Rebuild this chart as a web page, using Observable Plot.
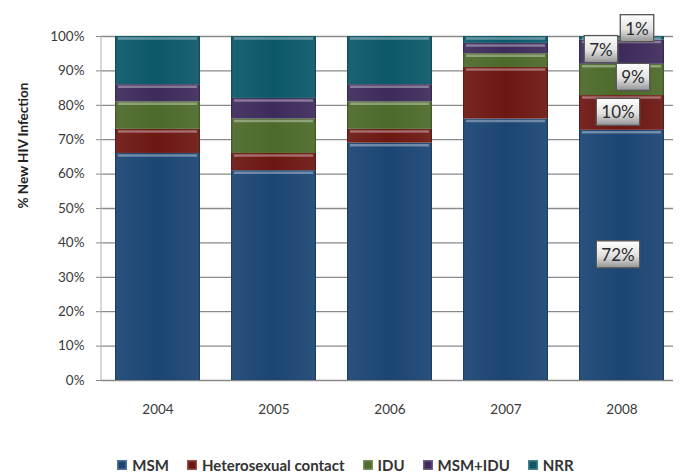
<!DOCTYPE html>
<html>
<head>
<meta charset="utf-8">
<script src="https://cdn.jsdelivr.net/npm/d3@7"></script>
<script src="https://cdn.jsdelivr.net/npm/@observablehq/plot@0.6"></script>
<style>
  html, body { margin: 0; padding: 0; background: #fff; overflow: hidden; }
  #chart { width: 683px; height: 430px; }
  #chart svg { max-width: none !important; display: block; }
  #legend { display: flex; justify-content: center; gap: 18px; margin-top: 25px; margin-left: 8px; height: 20px;
    font-family: Lato, "Open Sans", sans-serif; font-weight: bold; font-size: 15px; color: #333; }
  #legend .item { display: flex; align-items: center; gap: 5px; }
  #legend .sw { width: 10px; height: 10px; box-shadow: inset 0 0 0 1.5px rgba(255,255,255,0.25); }
</style>
</head>
<body>
<div id="chart"></div>
<div id="legend"></div>
<script>
const years = ["2004", "2005", "2006", "2007", "2008"];
const categories = ["MSM", "Heterosexual contact", "IDU", "MSM+IDU", "NRR"];
const msm    = [66, 61, 69, 76, 72];
const hetero = [7, 5, 4, 15, 10];
const idu    = [8, 10, 8, 4, 9];
const msmIdu = [5, 6, 5, 3, 7];
const nrr    = [14, 18, 14, 2, 1];
const yTicks = [0, 10, 20, 30, 40, 50, 60, 70, 80, 90, 100];
const labelYear = "2008";
const colors = ["#1b4574", "#6d1712", "#4c6a2a", "#3e2b5c", "#0b5869"];

const series = [msm, hetero, idu, msmIdu, nrr];
const data = [];
years.forEach((yr, i) => categories.forEach((c, j) => data.push({year: yr, cat: c, v: series[j][i]})));

const stackOpts = {offset: "normalize", order: categories};

// label offsets (presentation only)
const labelShift = {
  "MSM": [-4, 0], "Heterosexual contact": [-4, 0], "IDU": [11, -2],
  "MSM+IDU": [-21, -2], "NRR": [15, -9]
};

const marks = [
  Plot.gridY(yTicks.map(t => t / 100), {stroke: "#8a8a8a", strokeOpacity: 1, strokeWidth: 1.3}),
  Plot.barY(data, Plot.stackY(stackOpts, {x: "year", y: "v", z: "cat", fill: "cat", inset: 0})),
  Plot.barY(data, Plot.stackY(stackOpts, {x: "year", y: "v", z: "cat", fill: "url(#shine)", inset: 0})),
  Plot.tickY(data, Plot.stackY2(stackOpts, {x: "year", y: "v", z: "cat", stroke: "#ffffff", strokeOpacity: 0.35, strokeWidth: 2.5, inset: 3, dy: 2})),
  Plot.axisY({ticks: yTicks.map(t => t / 100), tickFormat: d => Math.round(d * 100) + "%", tickSize: 5, tickPadding: 12,
    stroke: "#8a8a8a", fontSize: 13.5, fill: "#3a3a3a", label: null}),
  Plot.axisX({tickSize: 0, tickPadding: 24, fontSize: 13.5, fill: "#3a3a3a", label: null}),
  Plot.text(["% New HIV Infection"], {frameAnchor: "left", dx: -78, rotate: -90, fontWeight: "bold", fontSize: 13.5, fill: "#222"})
];
categories.forEach(c => {
  marks.push(Plot.text(data, Plot.stackY(stackOpts, {
    x: "year", y: "v", z: "cat",
    text: d => (d.year === labelYear && d.cat === c) ? d.v + "%" : null,
    dx: labelShift[c][0], dy: labelShift[c][1],
    fontSize: 17, fill: "#2a2a2a", className: "boxlbl"
  })));
});

const chart = Plot.plot({
  width: 683,
  height: 430,
  marginTop: 36,
  marginBottom: 50,
  marginLeft: 101,
  marginRight: 10,
  style: {fontFamily: "Lato, 'Open Sans', sans-serif", background: "#fff"},
  x: {domain: years, paddingInner: 0.268, paddingOuter: 0.09, align: 0.62, axis: null},
  y: {domain: [0, 1], axis: null},
  color: {domain: categories, range: colors},
  marks
});
document.getElementById("chart").appendChild(chart);

// gradient defs + left border + label boxes
const svg = d3.select(chart);
const defs = svg.insert("defs", ":first-child");
const g = defs.append("linearGradient").attr("id", "shine").attr("x1", 0).attr("x2", 1).attr("y1", 0).attr("y2", 0);
g.append("stop").attr("offset", "0%").attr("stop-color", "#000").attr("stop-opacity", 0.25);
g.append("stop").attr("offset", "4%").attr("stop-color", "#fff").attr("stop-opacity", 0.06);
g.append("stop").attr("offset", "50%").attr("stop-color", "#fff").attr("stop-opacity", 0.0);
g.append("stop").attr("offset", "96%").attr("stop-color", "#fff").attr("stop-opacity", 0.06);
g.append("stop").attr("offset", "100%").attr("stop-color", "#000").attr("stop-opacity", 0.25);
const bg = defs.append("linearGradient").attr("id", "boxg").attr("x1", 0).attr("x2", 0).attr("y1", 0).attr("y2", 1);
bg.append("stop").attr("offset", "0%").attr("stop-color", "#ffffff");
bg.append("stop").attr("offset", "55%").attr("stop-color", "#e2e2e2");
bg.append("stop").attr("offset", "100%").attr("stop-color", "#949494");

const ys = chart.scale("y");
svg.append("line").attr("x1", 101).attr("x2", 101)
  .attr("y1", ys.apply(0)).attr("y2", ys.apply(1)).attr("stroke", "#b0b0b0");

svg.selectAll("g.boxlbl text").each(function() {
  const bb = this.getBBox();
  const t = this.getAttribute("transform");
  const r = d3.select(this.parentNode).insert("rect", () => this)
    .attr("x", bb.x - 5).attr("y", bb.y - 3).attr("width", bb.width + 10).attr("height", bb.height + 6)
    .attr("fill", "url(#boxg)").attr("stroke", "#555").attr("stroke-width", 1.3);
  if (t) r.attr("transform", t);
});

// legend
const leg = d3.select("#legend");
categories.forEach((c, i) => {
  const it = leg.append("div").attr("class", "item");
  it.append("div").attr("class", "sw").style("background", colors[i]);
  it.append("span").text(c);
});
</script>
</body>
</html>
